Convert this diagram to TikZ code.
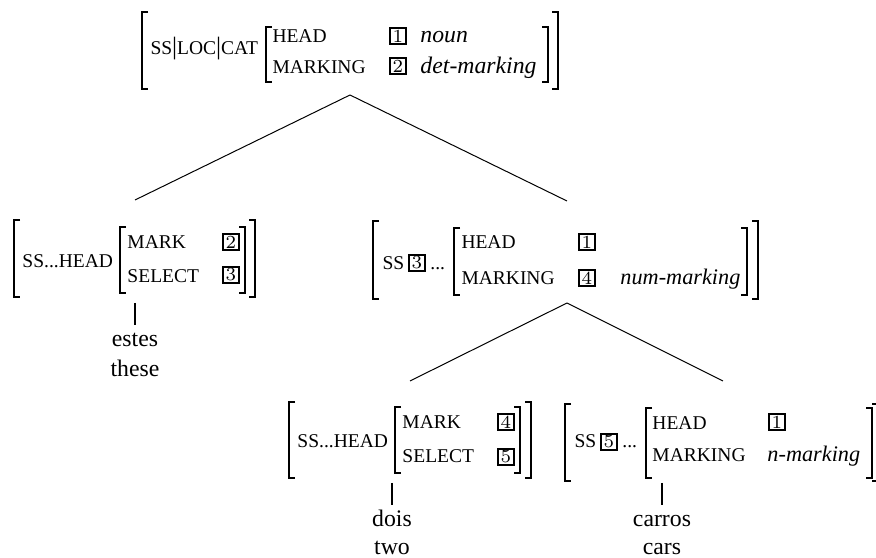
\documentclass[tikz,border=0pt]{standalone}
\usepackage{fontspec}
\newfontfamily\timesfont{Liberation Serif}
\usepackage{tikz}

\begin{document}
\begin{tikzpicture}[x=0.4pt,y=-0.4pt,
  feat/.style={anchor=base west,inner sep=0pt,font=\timesfont\fontsize{7.8}{9}\selectfont},
  val/.style={anchor=base west,inner sep=0pt,font=\timesfont\itshape\fontsize{9.5}{11}\selectfont},
  valsm/.style={val,font=\timesfont\itshape\fontsize{8.9}{11}\selectfont},
  tag/.style={draw,line width=0.7pt,inner sep=0pt,minimum size=6.6pt,font=\fontsize{7.4}{7.4}\selectfont},
  word/.style={anchor=base,inner sep=2pt,text height=6.5pt,font=\timesfont\fontsize{9.5}{11}\selectfont},
  brk/.style={line width=0.6pt},
  branch/.style={line width=0.4pt},
  stem/.style={line width=0.8pt}]
\useasboundingbox (0,0) rectangle (876,558);
\draw[brk] (148,12) -| (142,89) -- ++(6,0);
\draw[brk] (552,12) -| (558,89) -- ++(-6,0);
\draw[brk] (272,27) -| (266,82) -- ++(6,0);
\draw[brk] (542,27) -| (548,82) -- ++(-6,0);
\draw(150,55) node[feat] (ssloc) {SS{\fontsize{10}{10}\selectfont|}LOC{\fontsize{10}{10}\selectfont|}CAT};
\draw(272,43) node[feat] (tophead) {HEAD};
\draw(272,74) node[feat] (topmark) {MARKING};
\draw(398,36) node[tag] (toptagA) {1};
\draw(398,66) node[tag] (toptagB) {2};
\draw(420,43) node[val] (noun) {noun};
\draw(420,74) node[val] (detmark) {det-marking};
\draw[brk] (20,220) -| (14,297) -- ++(6,0);
\draw[brk] (249,220) -| (255,297) -- ++(-6,0);
\draw[brk] (126,227) -| (120,293) -- ++(6,0);
\draw[brk] (239,227) -| (245,293) -- ++(-6,0);
\draw(22,268) node[feat] (dethd) {SS...HEAD};
\draw(127,249) node[feat] (detmk) {MARK};
\draw(127,283) node[feat] (detsel) {SELECT};
\draw(231,242) node[tag] (dettagA) {2};
\draw(231,275) node[tag] (dettagB) {3};
\draw[brk] (379,221) -| (373,299) -- ++(6,0);
\draw[brk] (752,221) -| (758,299) -- ++(-6,0);
\draw[brk] (460,228) -| (454,295) -- ++(6,0);
\draw[brk] (741,228) -| (747,295) -- ++(-6,0);
\draw(382,270) node[feat] (midss) {SS};
\draw(417,263) node[tag] (midtagS) {3};
\draw(430,270) node[feat] (middots) {...};
\draw(461,249) node[feat] (midhead) {HEAD};
\draw(461,285) node[feat] (midmark) {MARKING};
\draw(587,242) node[tag] (midtagA) {1};
\draw(587,278) node[tag] (midtagB) {4};
\draw(620,285) node[valsm] (nummark) {num-marking};
\draw[brk] (295,402) -| (289,478) -- ++(6,0);
\draw[brk] (525,402) -| (531,478) -- ++(-6,0);
\draw[brk] (401,407) -| (395,473) -- ++(6,0);
\draw[brk] (514,407) -| (520,473) -- ++(-6,0);
\draw(297,448) node[feat] (numhd) {SS...HEAD};
\draw(402,429) node[feat] (nummk) {MARK};
\draw(402,463) node[feat] (numsel) {SELECT};
\draw(506,422) node[tag] (numtagA) {4};
\draw(506,457) node[tag] (numtagB) {5};
\draw[brk] (571,404) -| (565,481) -- ++(6,0);
\draw[brk] (872,404) -| (878,481) -- ++(-6,0);
\draw[brk] (652,408) -| (646,478) -- ++(6,0);
\draw[brk] (866,408) -| (872,478) -- ++(-6,0);
\draw(574,448) node[feat] (nss) {SS};
\draw(609,442) node[tag] (ntagS) {5};
\draw(622,448) node[feat] (ndots) {...};
\draw(652,430) node[feat] (nhead) {HEAD};
\draw(652,462) node[feat] (nmark) {MARKING};
\draw(777,422) node[tag] (ntagA) {1};
\draw(767,462) node[valsm] (nmarking) {n-marking};
\coordinate (top-b) at (350,95);
\coordinate (dethd-t) at (135,200);
\coordinate (mid-t) at (567,201);
\coordinate (mid-b) at (567,303);
\coordinate (numhd-t) at (410,381);
\coordinate (nhd-t) at (723,381);
\coordinate (dethd-b) at (135,303);
\coordinate (numhd-b) at (392,483);
\coordinate (nhd-b) at (662,483);
\draw(135,347) node[word] (estes) {estes};
\draw(135,377) node[word] (these) {these};
\draw(392,527) node[word] (dois) {dois};
\draw(392,555) node[word] (two) {two};
\draw(662,527) node[word] (carros) {carros};
\draw(662,555) node[word] (cars) {cars};
\draw[branch] (top-b) -- (dethd-t);
\draw[branch] (top-b) -- (mid-t);
\draw[branch] (mid-b) -- (numhd-t);
\draw[branch] (mid-b) -- (nhd-t);
\draw[stem] (dethd-b) -- (estes.north);
\draw[stem] (numhd-b) -- (dois.north);
\draw[stem] (nhd-b) -- (carros.north);
\end{tikzpicture}
\end{document}
